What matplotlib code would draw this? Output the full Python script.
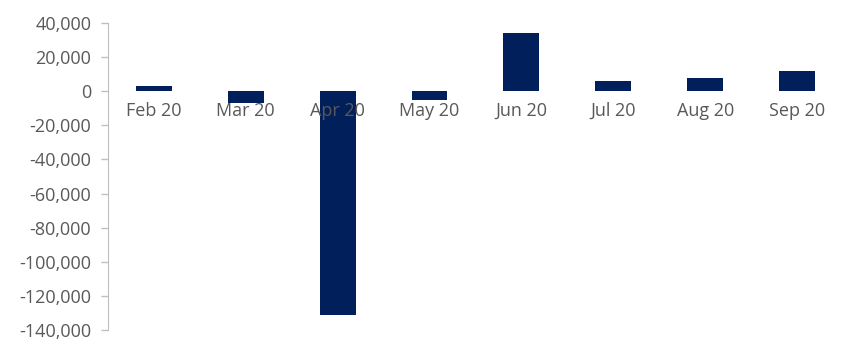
import numpy as np
import matplotlib
matplotlib.use('Agg')
import matplotlib.pyplot as plt
from matplotlib.ticker import FuncFormatter

months = ['Feb 20', 'Mar 20', 'Apr 20', 'May 20', 'Jun 20', 'Jul 20', 'Aug 20', 'Sep 20']
values = [2900, -7000, -131200, -5300, 33700, 5800, 7400, 11900]

plt.rcParams['font.family'] = ['Open Sans', 'DejaVu Sans']
fig = plt.figure(figsize=(8.43, 3.39), dpi=100)
ax = fig.add_axes([0.128, 0.026, 0.872, 0.907])

x = np.arange(len(months))
# bars below the axis so the month labels stay on top (as in the original)
ax.bar(x, values, width=0.39, color='#001f5b', zorder=1)

ax.set_xlim(-0.5, len(months) - 0.5)
ax.set_ylim(-140000, 40000)
ax.set_yticks(np.arange(-140000, 40001, 20000))
ax.yaxis.set_major_formatter(FuncFormatter(lambda v, p: f'{int(v):,}'))
ax.set_xticks(x)
ax.set_xticklabels(months)

ax.spines['bottom'].set_position(('data', 0))
ax.spines['bottom'].set_visible(False)
ax.spines['top'].set_visible(False)
ax.spines['right'].set_visible(False)
ax.spines['left'].set_color('#bfbfbf')
ax.tick_params(axis='x', length=0, pad=8, labelsize=13, labelcolor='#595959')
ax.tick_params(axis='y', length=5, width=1, color='#bfbfbf', pad=7,
               labelsize=13, labelcolor='#595959')

fig.savefig('out.png', dpi=100)
